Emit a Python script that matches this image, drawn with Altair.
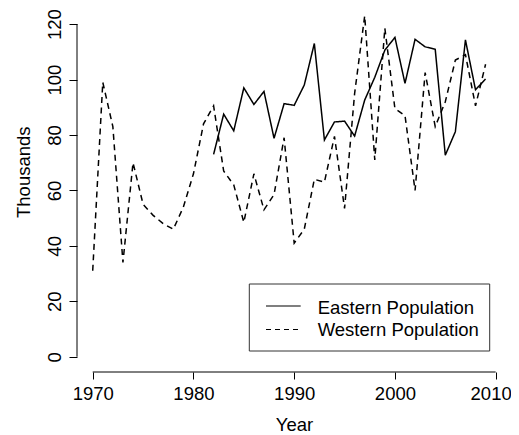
import altair as alt
import pandas as pd

# ---- data ----
years_west = list(range(1970, 2010))
western = [31, 99, 83, 34, 70, 55, 51, 48, 46, 54,
           66, 84, 90.5, 67, 62, 48.5, 66, 53, 58.5, 79,
           41, 46, 64, 63, 79.5, 53.5, 95, 123, 71, 118.5,
           89.5, 87, 60, 102.5, 83, 92, 107, 109, 90.5, 105.5]
years_east = list(range(1982, 2010))
eastern = [73, 87.5, 81.5, 97, 91, 95.7, 78.8, 91.3,
           90.7, 98, 113, 78.2, 84.7, 85, 79.6, 92.6, 100.8, 110.6,
           115.2, 98.6, 114.5, 111.8, 110.9, 72.7, 81.2, 114.3, 96.3, 100.2]
series_names = ["Eastern Population", "Western Population"]
x_ticks = [1970, 1980, 1990, 2000, 2010]
y_ticks = [0, 20, 40, 60, 80, 100, 120]

df = pd.concat([
    pd.DataFrame({"Year": years_east, "Thousands": eastern, "Series": series_names[0]}),
    pd.DataFrame({"Year": years_west, "Thousands": western, "Series": series_names[1]}),
])

W, H = 424, 364
FONT = "Liberation Sans"
FS = 18.5

xscale = alt.Scale(domain=[1968.44, 2010.53], nice=False, zero=False)
yscale = alt.Scale(domain=[-5.5, 125.8], nice=False, zero=False)

xaxis = alt.Axis(values=x_ticks, format="d", domain=False, grid=False,
                 tickSize=7, tickColor="black", labelPadding=20,
                 labelBaseline="alphabetic", labelFont=FONT, labelFontSize=FS,
                 labelColor="black", labelFlush=False, labelOverlap=False,
                 labelOffset={"condition": {"test": f"datum.value == {max(x_ticks)}", "value": -5},
                              "value": 0},
                 title="Year", titleFont=FONT, titleFontSize=FS, titleFontWeight="normal",
                 titleColor="black", titleX=217, titleY=58, titleBaseline="alphabetic",
                 titleAlign="center")
yaxis = alt.Axis(values=y_ticks, domain=False, grid=False,
                 tickSize=8, tickColor="black", labelPadding=9,
                 labelAngle=270, labelAlign="center", labelBaseline="alphabetic",
                 labelFont=FONT, labelFontSize=FS, labelColor="black",
                 labelFlush=False, labelOverlap=False,
                 title="Thousands", titleFont=FONT, titleFontSize=FS, titleFontWeight="normal",
                 titleColor="black", titleAngle=270, titleX=-48, titleY=163.7,
                 titleAlign="center", titleBaseline="alphabetic")

lines = alt.Chart(df).mark_line(strokeWidth=1.5, color="black").encode(
    x=alt.X("Year:Q", scale=xscale, axis=xaxis),
    y=alt.Y("Thousands:Q", scale=yscale, axis=yaxis),
    strokeDash=alt.StrokeDash("Series:N",
                              scale=alt.Scale(domain=series_names, range=[[1, 0], [6, 4.5]]),
                              legend=None),
    detail="Series:N",
)

x_axis_line = alt.Chart().mark_rule(color="black", strokeWidth=1).encode(
    x=alt.datum(min(x_ticks), scale=xscale), x2=alt.datum(max(x_ticks)), y=alt.value(H))
y_axis_line = alt.Chart().mark_rule(color="black", strokeWidth=1).encode(
    y=alt.datum(min(y_ticks), scale=yscale), y2=alt.datum(max(y_ticks)), x=alt.value(0))

# legend box (drawn by hand, R style)
box = alt.Chart().mark_rect(fill="white", stroke="#333333", strokeWidth=1).encode(
    x=alt.value(172.3), x2=alt.value(412.7), y=alt.value(276), y2=alt.value(343))
leg_e = alt.Chart().mark_rule(color="black", strokeWidth=1.2).encode(
    x=alt.value(189), x2=alt.value(223.7), y=alt.value(298))
leg_w = alt.Chart().mark_rule(color="black", strokeWidth=1.2, strokeDash=[5, 4]).encode(
    x=alt.value(189), x2=alt.value(223.7), y=alt.value(321.5))
txt_e = alt.Chart().mark_text(align="left", baseline="alphabetic", font=FONT,
                              fontSize=FS, color="black").encode(
    x=alt.value(240.7), y=alt.value(305.5), text=alt.value(series_names[0]))
txt_w = alt.Chart().mark_text(align="left", baseline="alphabetic", font=FONT,
                              fontSize=FS, color="black").encode(
    x=alt.value(240.7), y=alt.value(327.5), text=alt.value(series_names[1]))

chart = alt.layer(lines, x_axis_line, y_axis_line, box, leg_e, leg_w, txt_e, txt_w).properties(
    width=W, height=H,
    padding={"left": 69, "top": 0, "right": 10, "bottom": 62},
    autosize=alt.AutoSizeParams(type="none"),
    background="white",
).configure_view(stroke=None)

chart.save("out.html", embed_options={"renderer": "svg", "actions": False})
